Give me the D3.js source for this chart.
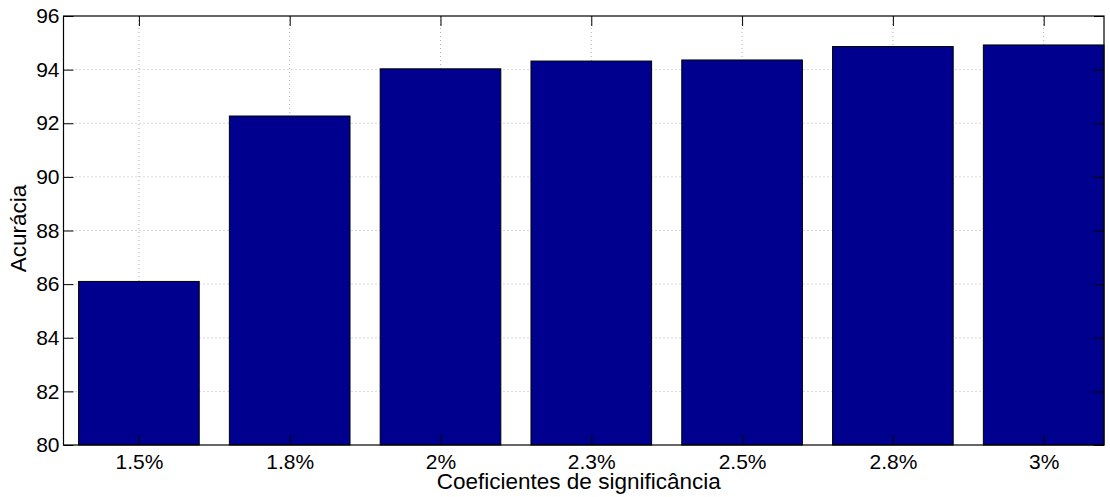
<!DOCTYPE html>
<html><head><meta charset="utf-8">
<script src="https://cdn.jsdelivr.net/npm/d3@7"></script>
<style>body{margin:0;background:#fff}text{font-family:"Liberation Sans",Arial,sans-serif;fill:#000}</style>
</head><body>
<svg id="c" width="1110" height="497"></svg>
<script>
const categories = ["1.5%","1.8%","2%","2.3%","2.5%","2.8%","3%"];
const values = [86.1, 92.27, 94.03, 94.32, 94.36, 94.86, 94.92];
const yTicks = [80,82,84,86,88,90,92,94,96];
const xLabel = "Coeficientes de significância";
const yLabel = "Acurácia";

const L=63.5, R=1104, T=16, B=445;
const svg=d3.select("#c");
const x=d3.scaleLinear().domain([0.5,7.4]).range([L,R]);
const y=d3.scaleLinear().domain([80,96]).range([B,T]);
const bw = (x(1.8)-x(1));

// grid
const g=svg.append("g");
g.selectAll("line.h").data(yTicks.slice(1,-1)).enter().append("line")
 .attr("x1",L).attr("x2",R).attr("y1",d=>y(d)).attr("y2",d=>y(d))
 .attr("stroke","#b0b0b0").attr("stroke-dasharray","1,3");
g.selectAll("line.v").data(categories).enter().append("line")
 .attr("x1",(d,i)=>x(i+1)).attr("x2",(d,i)=>x(i+1)).attr("y1",T).attr("y2",B)
 .attr("stroke","#b0b0b0").attr("stroke-dasharray","1,3");

// bars
svg.selectAll("rect.bar").data(values).enter().append("rect")
 .attr("x",(d,i)=>x(i+1)-bw/2).attr("width",bw)
 .attr("y",d=>y(d)).attr("height",d=>B-y(d))
 .attr("fill","#00008f").attr("stroke","#000").attr("stroke-width",1);

// box
svg.append("rect").attr("x",L).attr("y",T).attr("width",R-L).attr("height",B-T)
 .attr("fill","none").attr("stroke","#000").attr("stroke-width",1.2);

// ticks inward
const ya=d3.axisLeft(y).tickValues(yTicks).tickSize(-10).tickPadding(4).tickFormat(d3.format("d"));
const yg=svg.append("g").attr("transform",`translate(${L},0)`).call(ya);
yg.select(".domain").remove();
yg.selectAll("text").style("font-size","21px");
const yr=d3.axisRight(y).tickValues(yTicks).tickSize(-10).tickFormat("");
const yrg=svg.append("g").attr("transform",`translate(${R},0)`).call(yr);
yrg.select(".domain").remove();

const xa=d3.axisBottom(x).tickValues(d3.range(1,8)).tickSize(-10).tickPadding(9).tickFormat((d)=>categories[d-1]);
const xg=svg.append("g").attr("transform",`translate(0,${B})`).call(xa);
xg.select(".domain").remove();
xg.selectAll("text").style("font-size","21px");
const xt=d3.axisTop(x).tickValues(d3.range(1,8)).tickSize(-10).tickFormat("");
const xtg=svg.append("g").attr("transform",`translate(0,${T})`).call(xt);
xtg.select(".domain").remove();
svg.selectAll(".tick line").attr("stroke","#000");

svg.append("text").attr("x",(L+R)/2-5).attr("y",489).attr("text-anchor","middle").style("font-size","22.5px").text(xLabel);
svg.append("text").attr("transform",`translate(26,${(T+B)/2-2}) rotate(-90)`).attr("text-anchor","middle").style("font-size","22.5px").text(yLabel);
</script>
</body></html>
